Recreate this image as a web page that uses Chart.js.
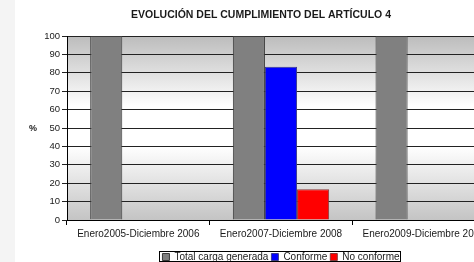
<!DOCTYPE html>
<html>
<head>
<meta charset="utf-8">
<script src="https://cdn.jsdelivr.net/npm/chart.js@4.4.1/dist/chart.umd.min.js"></script>
<style>
  html, body { margin: 0; padding: 0; }
  body {
    width: 474px; height: 262px; overflow: hidden;
    background: linear-gradient(to right, #f4f4f4 0, #f4f4f4 15px, #ffffff 15px);
  }
  #wrap { position: relative; width: 520px; height: 262px; }
</style>
</head>
<body>
<div id="wrap"><canvas id="cumplimientoChart" width="520" height="262"></canvas></div>
<script>
// --- DATA ---
const categories = ['Enero2005-Diciembre 2006', 'Enero2007-Diciembre 2008', 'Enero2009-Diciembre 2010'];
const totalCarga = [100, 100, 100];
const conforme = [null, 83.3, null];
const noConforme = [null, 16.7, null];
const yTicks = [0, 10, 20, 30, 40, 50, 60, 70, 80, 90, 100];

const chartTitle = 'EVOLUCIÓN DEL CUMPLIMIENTO DEL ARTÍCULO 4';
const FONT = '"Liberation Sans", Arial, sans-serif';
const TEXT_COLOR = '#1a1a1a';

// plot area gradient (gray - white - gray), like the old Excel chart
const plotBackground = {
    id: 'plotBackground',
    beforeDraw(chart) {
        const { ctx, chartArea } = chart;
        const g = ctx.createLinearGradient(0, chartArea.top, 0, chartArea.bottom);
        g.addColorStop(0, '#bcbcbc');
        g.addColorStop(0.38, '#ffffff');
        g.addColorStop(0.6, '#ffffff');
        g.addColorStop(1, '#c4c4c4');
        ctx.save();
        ctx.fillStyle = g;
        ctx.fillRect(chartArea.left, chartArea.top, chartArea.right - chartArea.left, chartArea.bottom - chartArea.top);
        ctx.restore();
    },
};

// title, "%" label and legend frame
const extras = {
    id: 'extras',
    afterDraw(chart) {
        const { ctx, chartArea } = chart;
        ctx.save();
        ctx.fillStyle = TEXT_COLOR;
        ctx.textAlign = 'center';
        ctx.textBaseline = 'middle';
        ctx.font = 'bold 10.5px ' + FONT;
        ctx.fillText(chartTitle, 261, 15);
        ctx.font = 'bold 9px ' + FONT;
        ctx.fillText('%', 33, (chartArea.top + chartArea.bottom) / 2 + 1);

        const boxes = chart.legend.legendHitBoxes;
        if (boxes && boxes.length) {
            const left = Math.min(...boxes.map((b) => b.left)) - 3;
            const right = Math.max(...boxes.map((b) => b.left + b.width)) + 1;
            const top = Math.min(...boxes.map((b) => b.top)) - 1;
            const bottom = Math.min(Math.max(...boxes.map((b) => b.top + b.height)), 261);
            ctx.strokeStyle = '#000';
            ctx.lineWidth = 1;
            ctx.strokeRect(Math.round(left) + 0.5, Math.round(top) + 0.5, Math.round(right - left), Math.round(bottom - top));
        }
        ctx.restore();
    },
};

const ctx = document.getElementById('cumplimientoChart').getContext('2d');
new Chart(ctx, {
    type: 'bar',
    data: {
        labels: categories,
        datasets: [
            {
                label: 'Total carga generada',
                data: totalCarga,
                backgroundColor: '#808080',
                borderColor: '#3a3a3a',
                borderWidth: 1,
            },
            {
                label: 'Conforme',
                data: conforme,
                backgroundColor: '#0000ff',
                borderColor: '#3a3a8a',
                borderWidth: 1,
            },
            {
                label: 'No conforme',
                data: noConforme,
                backgroundColor: '#ff0000',
                borderColor: '#8a3a3a',
                borderWidth: 1,
            },
        ],
    },
    options: {
        responsive: false,
        animation: false,
        categoryPercentage: 0.675,
        barPercentage: 1,
        layout: { padding: { left: 27, right: 25, top: 36, bottom: -10 } },
        plugins: {
            title: { display: false },
            tooltip: { enabled: false },
            legend: {
                position: 'bottom',
                fullSize: false,
                labels: {
                    boxWidth: 7,
                    boxHeight: 7,
                    padding: 3,
                    color: TEXT_COLOR,
                    font: { family: FONT, size: 10 },
                },
            },
        },
        scales: {
            x: {
                grid: {
                    drawOnChartArea: false,
                    drawTicks: true,
                    tickLength: 5,
                    color: '#000',
                },
                border: { color: '#000' },
                ticks: {
                    color: TEXT_COLOR,
                    font: { family: FONT, size: 10 },
                    maxRotation: 0,
                    autoSkip: false,
                    padding: 3,
                },
                afterFit: (s) => { s.height = 29; },
            },
            y: {
                min: 0,
                max: 100,
                afterBuildTicks: (s) => { s.ticks = yTicks.map((v) => ({ value: v })); },
                grid: {
                    color: '#222',
                    drawTicks: true,
                    tickLength: 5,
                },
                border: { color: '#000' },
                ticks: {
                    color: TEXT_COLOR,
                    font: { family: FONT, size: 9.5 },
                    padding: 2,
                },
                afterFit: (s) => { s.width = 40; },
            },
        },
    },
    plugins: [plotBackground, extras],
});
</script>
</body>
</html>
